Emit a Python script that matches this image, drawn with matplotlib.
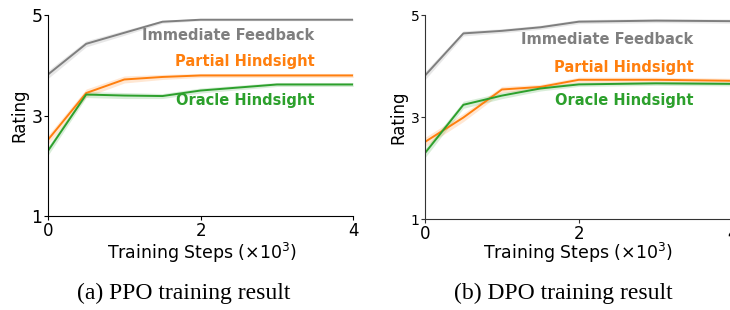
import matplotlib
matplotlib.use("Agg")
import matplotlib.pyplot as plt
import numpy as np

# training steps (x10^3)
steps = [0, 0.5, 1, 1.5, 2, 3, 4]

# PPO
ppo_immediate = [3.82, 4.43, 4.65, 4.87, 4.91, 4.91, 4.91]
ppo_partial = [2.52, 3.45, 3.72, 3.77, 3.80, 3.80, 3.80]
ppo_oracle = [2.30, 3.42, 3.40, 3.39, 3.50, 3.62, 3.62]
ppo_immediate_sd = [0.08, 0.06, 0.05, 0.03, 0.02, 0.02, 0.02]
ppo_partial_sd = [0.09, 0.08, 0.07, 0.05, 0.04, 0.04, 0.04]
ppo_oracle_sd = [0.09, 0.06, 0.06, 0.05, 0.05, 0.04, 0.04]

# DPO
dpo_immediate = [3.81, 4.64, 4.69, 4.76, 4.87, 4.89, 4.88]
dpo_partial = [2.51, 2.99, 3.54, 3.59, 3.73, 3.73, 3.71]
dpo_oracle = [2.29, 3.24, 3.42, 3.56, 3.64, 3.66, 3.65]
dpo_immediate_sd = [0.08, 0.05, 0.04, 0.04, 0.04, 0.04, 0.04]
dpo_partial_sd = [0.09, 0.08, 0.06, 0.05, 0.05, 0.05, 0.05]
dpo_oracle_sd = [0.09, 0.07, 0.06, 0.05, 0.04, 0.04, 0.04]

labels = ["Immediate Feedback", "Partial Hindsight", "Oracle Hindsight"]
colors = ["#7f7f7f", "#ff7f0e", "#2ca02c"]
captions = ["(a) PPO training result", "(b) DPO training result"]

fig = plt.figure(figsize=(7.3, 3.1), dpi=100)
ax1 = fig.add_axes([0.0658, 0.303, 0.418, 0.648])
ax2 = fig.add_axes([0.582, 0.2935, 0.422, 0.658])


def tracer(ax, means, sds, label_y, tick_size, spine_color):
    for m, s, c in zip(means, sds, colors):
        m = np.array(m)
        s = np.array(s)
        ax.fill_between(steps, m - s, m + s, color=c, alpha=0.18, linewidth=0)
        ax.plot(steps, m, color=c, linewidth=1.4)
    for lab, c, y in zip(labels, colors, label_y):
        ax.text(3.49, y, lab, color=c, fontsize=10.5, fontweight="bold",
                ha="right", va="center")
    ax.set_xlim(0, 4)
    ax.set_ylim(1, 5)
    ax.set_xticks([0, 2, 4])
    ax.set_yticks([1, 3, 5])
    ax.spines["top"].set_visible(False)
    ax.spines["right"].set_visible(False)
    ax.spines["left"].set_color(spine_color)
    ax.spines["bottom"].set_color(spine_color)
    ax.tick_params(axis="y", labelsize=tick_size, length=3, pad=1, color=spine_color)
    ax.tick_params(axis="x", labelsize=12, length=3, pad=1, color=spine_color)
    ax.set_ylabel("Rating", fontsize=12, labelpad=2)


tracer(ax1, [ppo_immediate, ppo_partial, ppo_oracle],
       [ppo_immediate_sd, ppo_partial_sd, ppo_oracle_sd],
       [4.60, 4.08, 3.31], 12.5, "black")
tracer(ax2, [dpo_immediate, dpo_partial, dpo_oracle],
       [dpo_immediate_sd, dpo_partial_sd, dpo_oracle_sd],
       [4.53, 3.98, 3.33], 10, "#333333")

fig.text(0.276, 0.184, "Training Steps ($\\times10^3$)", fontsize=12.5, ha="center", va="center")
fig.text(0.792, 0.184, "Training Steps ($\\times10^3$)", fontsize=12.5, ha="center", va="center")
fig.text(0.252, 0.052, captions[0], fontsize=17, family="Liberation Serif", ha="center", va="center")
fig.text(0.771, 0.052, captions[1], fontsize=17, family="Liberation Serif", ha="center", va="center")

fig.savefig("out.png", dpi=100)
